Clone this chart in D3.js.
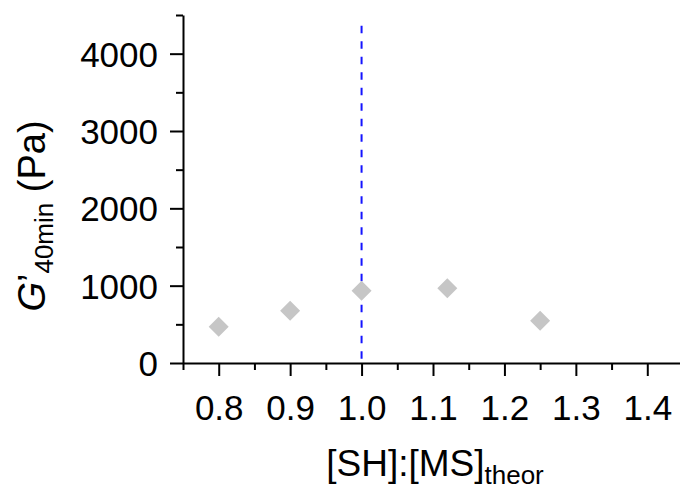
<!DOCTYPE html>
<html>
<head>
<meta charset="utf-8">
<script src="https://cdn.jsdelivr.net/npm/d3@7"></script>
<style>
  body { margin: 0; background: #fff; }
  text { font-family: "Liberation Sans", Arial, sans-serif; fill: #000; }
  .axis path, .axis line { stroke: #000; stroke-width: 2px; }
  .axis text { font-size: 35px; }
</style>
</head>
<body>
<svg id="chart" width="680" height="489"></svg>
<script>
// [SH]:[MS] ratio vs. storage modulus after 40 min
var ratios = [0.8, 0.9, 1.0, 1.12, 1.25];
var modulus = [470, 676, 935, 966, 545];

var xTicks = [0.8, 0.9, 1.0, 1.1, 1.2, 1.3, 1.4];
var xMinorTicks = [0.75, 0.85, 0.95, 1.05, 1.15, 1.25, 1.35, 1.45];
var yTicks = [0, 1000, 2000, 3000, 4000];
var yMinorTicks = [500, 1500, 2500, 3500, 4500];

// vertical marker at the stoichiometric ratio
var refRatio = [1.0];
var refSpan = [4360, 0];

var svg = d3.select('#chart');

var x = d3.scaleLinear().domain([0.75, 1.45]).range([183, 683]);
var y = d3.scaleLinear().domain([0, 4500]).range([363, 15]);

// minor ticks first, major axes on top
svg.append('g')
  .attr('class', 'axis')
  .attr('transform', 'translate(0,' + y(0) + ')')
  .call(d3.axisBottom(x).tickValues(xMinorTicks).tickSize(7)
    .tickSizeOuter(0).tickFormat(''));

svg.append('g')
  .attr('class', 'axis')
  .attr('transform', 'translate(' + x(0.75) + ',0)')
  .call(d3.axisLeft(y).tickValues(yMinorTicks).tickSize(7)
    .tickSizeOuter(0).tickFormat(''));

var xAxis = svg.append('g')
  .attr('class', 'axis')
  .attr('transform', 'translate(0,' + y(0) + ')')
  .call(d3.axisBottom(x).tickValues(xTicks).tickSize(13)
    .tickSizeOuter(0).tickPadding(19).tickFormat(d3.format('.1f')));
xAxis.select('.domain').remove();

var yAxis = svg.append('g')
  .attr('class', 'axis')
  .attr('transform', 'translate(' + x(0.75) + ',0)')
  .call(d3.axisLeft(y).tickValues(yTicks).tickSize(13)
    .tickSizeOuter(0).tickPadding(12).tickFormat(d3.format('d')));
yAxis.select('.domain').remove();
yAxis.selectAll('text').attr('dy', '0.36em');

// dashed reference line
svg.selectAll('line.ref')
  .data(refRatio)
  .enter()
  .append('line')
  .attr('class', 'ref')
  .attr('x1', function(d) { return x(d); })
  .attr('x2', function(d) { return x(d); })
  .attr('y1', y(refSpan[0]))
  .attr('y2', y(refSpan[1]))
  .attr('stroke', '#1414ff')
  .attr('stroke-width', 2)
  .attr('stroke-dasharray', '7.5,8');

// diamonds
var diamond = d3.symbol().type(d3.symbolSquare).size(200);
svg.selectAll('path.pt')
  .data(ratios)
  .enter()
  .append('path')
  .attr('class', 'pt')
  .attr('d', diamond)
  .attr('fill', '#c6c6c6')
  .attr('transform', function(d, i) {
    return 'translate(' + x(d) + ',' + y(modulus[i]) + ') rotate(45)';
  });

// x title
var xt = svg.append('text')
  .attr('x', 435)
  .attr('y', 476)
  .attr('text-anchor', 'middle')
  .style('font-size', '37px');
xt.append('tspan').text('[SH]:[MS]');
xt.append('tspan').attr('dy', 8).style('font-size', '26px').text('theor');

// y title
var yt = svg.append('text')
  .attr('transform', 'translate(45,216) rotate(-90)')
  .attr('text-anchor', 'middle')
  .style('font-size', '38px');
yt.append('tspan').style('font-style', 'italic').text('G');
yt.append('tspan').text('\u2019');
yt.append('tspan').attr('dy', 8).style('font-size', '26px').text('40min');
yt.append('tspan').attr('dy', -8).text(' (Pa)');
</script>
</body>
</html>
